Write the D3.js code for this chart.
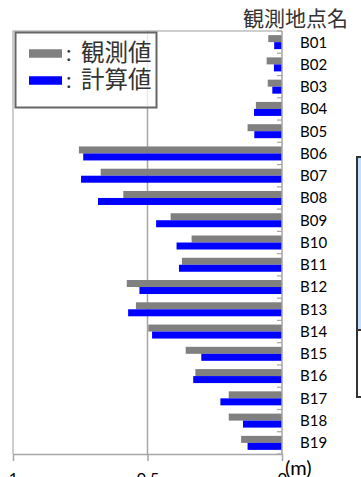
<!DOCTYPE html>
<html>
<head>
<meta charset="utf-8">
<script src="https://cdn.jsdelivr.net/npm/d3@7"></script>
<style>
  html, body { margin: 0; padding: 0; background: #fff; overflow: hidden; }
  svg { display: block; }
</style>
</head>
<body>
<svg id="chart" width="361" height="477"></svg>
<script>
// Observation points (top to bottom)
const categories = ["B01","B02","B03","B04","B05","B06","B07","B08","B09","B10",
                    "B11","B12","B13","B14","B15","B16","B17","B18","B19"];
// Observed values (m)
const observed = [0.051,0.057,0.053,0.097,0.128,0.755,0.674,0.590,0.414,0.336,
                  0.372,0.577,0.543,0.497,0.358,0.322,0.198,0.198,0.152];
// Calculated values (m)
const calculated = [0.029,0.030,0.036,0.104,0.103,0.739,0.747,0.684,0.468,0.392,
                    0.383,0.530,0.572,0.483,0.300,0.330,0.229,0.145,0.128];
const xTicks = [1, 0.5, 0];
const xTickLabels = ["1", "0.5", "0"];
const seriesNames = ["観測値", "計算値"];
const seriesColors = ["#808080", "#0000ff"];

const latin = "Lato, 'Liberation Sans', sans-serif";
const cjk = "'Noto Sans CJK JP', sans-serif";

const svg = d3.select("#chart");

const plot = { left: 13, right: 282, top: 31, bottom: 454 };

const x = d3.scaleLinear().domain([1, 0]).range([plot.left, plot.right]);
const y = d3.scaleBand().domain(categories).range([plot.top, plot.bottom])
  .paddingInner(0).paddingOuter(0);
const sub = d3.scaleBand().domain([0, 1]).range([0, y.bandwidth()])
  .paddingInner(0).paddingOuter(0.59);

// plot area frame (top and left)
svg.append("path")
  .attr("d", `M${plot.left},${plot.bottom} V${plot.top} H${plot.right}`)
  .attr("fill", "none").attr("stroke", "#bfbfbf").attr("stroke-width", 1.5);

// vertical gridline
svg.append("g").selectAll("line").data(xTicks.filter(v => v !== 0 && v !== 1))
  .join("line")
  .attr("x1", d => x(d)).attr("x2", d => x(d))
  .attr("y1", plot.top).attr("y2", plot.bottom)
  .attr("stroke", "#a6a6a6").attr("stroke-width", 1.5);

// bars
const rows = categories.map((c, i) => ({ c, vals: [observed[i], calculated[i]] }));
svg.append("g").selectAll("g").data(rows).join("g")
  .attr("transform", d => `translate(0,${y(d.c)})`)
  .selectAll("rect").data(d => d.vals.map((v, k) => ({ v, k })))
  .join("rect")
  .attr("x", d => x(d.v))
  .attr("width", d => x(0) - x(d.v))
  .attr("y", d => sub(d.k))
  .attr("height", sub.bandwidth())
  .attr("fill", d => seriesColors[d.k]);

// category boundary ticks on the value-zero axis
const bounds = categories.map(c => y(c)).concat([plot.bottom]);
svg.append("g").selectAll("line").data(bounds).join("line")
  .attr("x1", x(0) - 5).attr("x2", x(0))
  .attr("y1", d => d).attr("y2", d => d)
  .attr("stroke", "#a6a6a6").attr("stroke-width", 1.2);

// right axis line at zero
svg.append("line")
  .attr("x1", x(0)).attr("x2", x(0))
  .attr("y1", plot.top).attr("y2", plot.bottom)
  .attr("stroke", "#a6a6a6").attr("stroke-width", 1.5);

// bottom value axis
const xAxis = d3.axisBottom(x).tickValues(xTicks)
  .tickFormat((d, i) => xTickLabels[i]).tickSize(7).tickSizeOuter(0).tickPadding(12);
const gx = svg.append("g").attr("transform", `translate(0,${plot.bottom})`).call(xAxis);
gx.select(".domain").attr("stroke", "#a6a6a6").attr("stroke-width", 1.5);
gx.selectAll(".tick line").attr("stroke", "#a6a6a6").attr("stroke-width", 1.5);
gx.selectAll(".tick text").attr("font-family", latin).attr("font-size", 16)
  .attr("fill", "#000");

// unit label
svg.append("text").attr("x", 285).attr("y", 475)
  .attr("font-family", latin).attr("font-size", 20).attr("fill", "#000")
  .text("(m)");

// category labels
svg.append("g").selectAll("text").data(categories).join("text")
  .attr("x", 300).attr("y", d => y(d) + y.bandwidth() / 2)
  .attr("dy", "0.36em")
  .attr("font-family", latin).attr("font-size", 15).attr("fill", "#000")
  .text(d => d);

// axis title
svg.append("text").attr("x", 243).attr("y", 25.5)
  .attr("font-family", cjk).attr("font-size", 21).attr("fill", "#333")
  .text("観測地点名");

// legend
const lg = svg.append("g");
lg.append("rect").attr("x", 15.5).attr("y", 32.5).attr("width", 141).attr("height", 75)
  .attr("fill", "#fff").attr("fill-opacity", 0.75)
  .attr("stroke", "#666").attr("stroke-width", 2);
const legendRows = [0, 1];
const lgY = [53.5, 80.5];
lg.selectAll("rect.sw").data(legendRows).join("rect").attr("class", "sw")
  .attr("x", 29).attr("y", d => lgY[d] - 4.25).attr("width", 33).attr("height", 8.5)
  .attr("fill", d => seriesColors[d]);
lg.selectAll("text.colon").data(legendRows).join("text").attr("class", "colon")
  .attr("x", 66).attr("y", d => lgY[d] + 7)
  .attr("font-family", latin).attr("font-size", 22).attr("fill", "#333")
  .text(":");
lg.selectAll("text.name").data(legendRows).join("text").attr("class", "name")
  .attr("x", 81).attr("y", d => lgY[d] + 7)
  .attr("font-family", cjk).attr("font-size", 23.5).attr("fill", "#333")
  .text(d => seriesNames[d]);

// side panel
svg.append("rect").attr("x", 357).attr("y", 157).attr("width", 10).attr("height", 173)
  .attr("fill", "#bfe1ff");
svg.append("rect").attr("x", 357).attr("y", 157).attr("width", 10).attr("height", 240)
  .attr("fill", "none").attr("stroke", "#333").attr("stroke-width", 2);
svg.append("line").attr("x1", 357).attr("x2", 367).attr("y1", 330).attr("y2", 330)
  .attr("stroke", "#333").attr("stroke-width", 2);
</script>
</body>
</html>
